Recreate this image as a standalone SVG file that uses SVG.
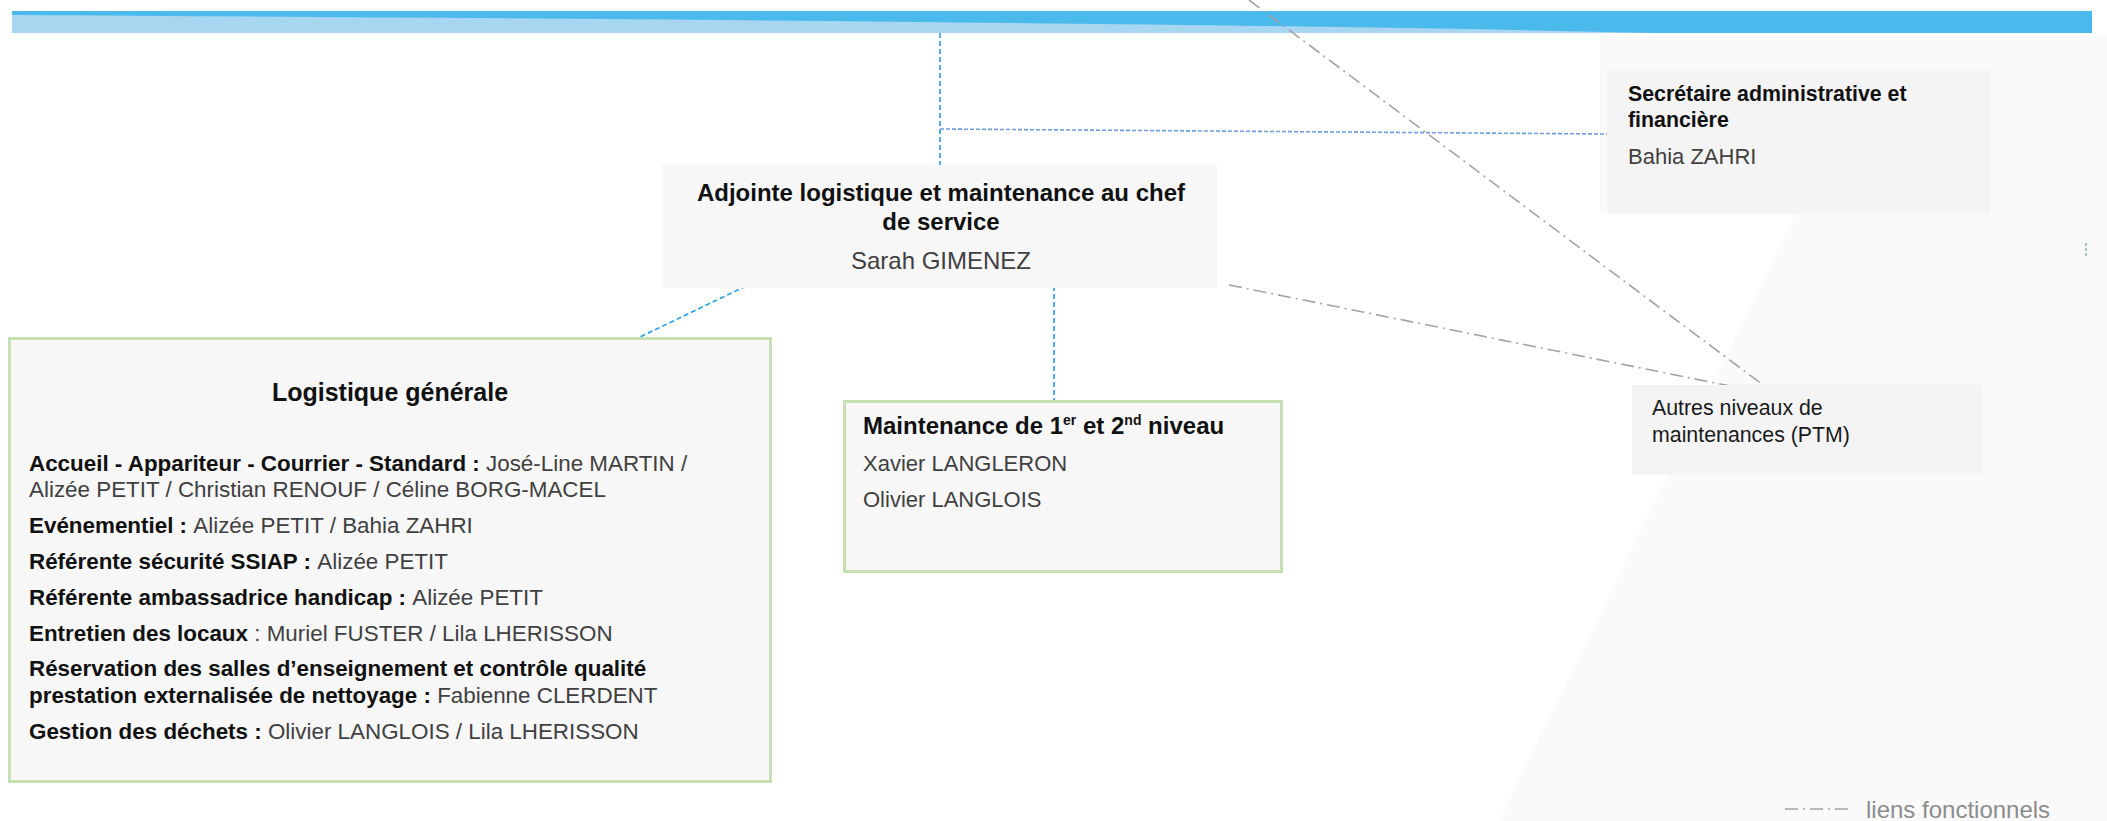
<svg xmlns="http://www.w3.org/2000/svg" width="2107" height="821" viewBox="0 0 2107 821">
<style>
text{font-family:"Liberation Sans",Arial,sans-serif}
.b{font-weight:bold;fill:#111}
.r{font-weight:normal;fill:#404040}
.box{fill:#f7f7f7}
.gbox{fill:#f7f7f7;stroke:#c6e0b4;stroke-width:3}
.blue{fill:none;stroke:#1ea0e6;stroke-width:1.6;stroke-dasharray:5 3}
.blue2{fill:none;stroke:#6f9fd6;stroke-width:1.6;stroke-dasharray:4 2}
.func{fill:none;stroke:#a3a3a3;stroke-width:1.6;stroke-dasharray:13 5 2 5}
</style>
<rect width="2107" height="821" fill="#ffffff"/>
<polygon points="1600,36 2107,36 2107,821 1499,821 1795,215 1600,215" fill="#fafafa"/>
<g id="banner">
<path d="M12,11 L2092,11 L2092,33 L12,33 Z" fill="#4ab9eb"/>
<path d="M12,15 Q1200,22 1660,33 L12,33 Z" fill="#a6d6f0"/>
</g>
<g id="connectors">
<line class="blue" x1="940" y1="33" x2="940" y2="165"/>
<line class="blue2" x1="940" y1="129" x2="1607" y2="134"/>
<line class="blue" x1="746" y1="286" x2="640" y2="337"/>
<line class="blue" x1="1054" y1="286" x2="1054" y2="400"/>
<line class="func" x1="1249" y1="0" x2="1763" y2="385"/>
<line class="func" x1="1229" y1="285" x2="1735" y2="387"/>
<line x1="2086" y1="243" x2="2086" y2="256" stroke="#7fb5b5" stroke-width="1.5" stroke-dasharray="3 2"/>
</g>
<g id="adjointe">
<rect class="box" x="662" y="165" width="555" height="123"/>
<text class="b" x="941" y="201" font-size="24" text-anchor="middle">Adjointe logistique et maintenance au chef</text>
<text class="b" x="941" y="230" font-size="24" text-anchor="middle">de service</text>
<text class="r" x="941" y="269" font-size="24" text-anchor="middle">Sarah GIMENEZ</text>
</g>
<g id="secretaire">
<rect x="1607" y="69" width="383" height="144" fill="#f4f4f4"/>
<text class="b" x="1628" y="101" font-size="21.33">Secrétaire administrative et</text>
<text class="b" x="1628" y="127" font-size="21.33">financière</text>
<text class="r" x="1628" y="164" font-size="22">Bahia ZAHRI</text>
</g>
<g id="autres">
<rect x="1632" y="385" width="350" height="90" fill="#f4f4f4"/>
<text x="1652" y="415" font-size="21.33" fill="#1a1a1a">Autres niveaux de</text>
<text x="1652" y="442" font-size="21.33" fill="#1a1a1a">maintenances (PTM)</text>
</g>
<g id="logistique">
<rect class="gbox" x="9.5" y="338.5" width="761" height="443"/>
<text class="b" x="390" y="401" font-size="25" text-anchor="middle">Logistique générale</text>
<g font-size="22.4">
<text x="29" y="471"><tspan class="b">Accueil - Appariteur - Courrier - Standard : </tspan><tspan class="r">José-Line MARTIN /</tspan></text>
<text class="r" x="29" y="497">Alizée PETIT / Christian RENOUF / Céline BORG-MACEL</text>
<text x="29" y="533"><tspan class="b">Evénementiel : </tspan><tspan class="r">Alizée PETIT / Bahia ZAHRI</tspan></text>
<text x="29" y="569"><tspan class="b">Référente sécurité SSIAP : </tspan><tspan class="r">Alizée PETIT</tspan></text>
<text x="29" y="605"><tspan class="b">Référente ambassadrice handicap : </tspan><tspan class="r">Alizée PETIT</tspan></text>
<text x="29" y="641"><tspan class="b">Entretien des locaux</tspan><tspan class="r"> : Muriel FUSTER / Lila LHERISSON</tspan></text>
<text class="b" x="29" y="676">Réservation des salles d’enseignement et contrôle qualité</text>
<text x="29" y="703"><tspan class="b">prestation externalisée de nettoyage : </tspan><tspan class="r">Fabienne CLERDENT</tspan></text>
<text x="29" y="739"><tspan class="b">Gestion des déchets : </tspan><tspan class="r">Olivier LANGLOIS / Lila LHERISSON</tspan></text>
</g>
</g>
<g id="maintenance">
<rect class="gbox" x="844.5" y="401.5" width="437" height="170"/>
<text class="b" x="863" y="434" font-size="24">Maintenance de 1<tspan font-size="14" dy="-9">er</tspan><tspan dy="9"> et 2</tspan><tspan font-size="14" dy="-9">nd</tspan><tspan dy="9"> niveau</tspan></text>
<text class="r" x="863" y="471" font-size="22">Xavier LANGLERON</text>
<text class="r" x="863" y="507" font-size="22">Olivier LANGLOIS</text>
</g>
<g id="legend">
<line class="func" x1="1785" y1="809" x2="1852" y2="809" stroke-width="2" stroke="#999"/>
<text x="1866" y="818" font-size="24" fill="#8c8c8c">liens fonctionnels</text>
</g>
</svg>
